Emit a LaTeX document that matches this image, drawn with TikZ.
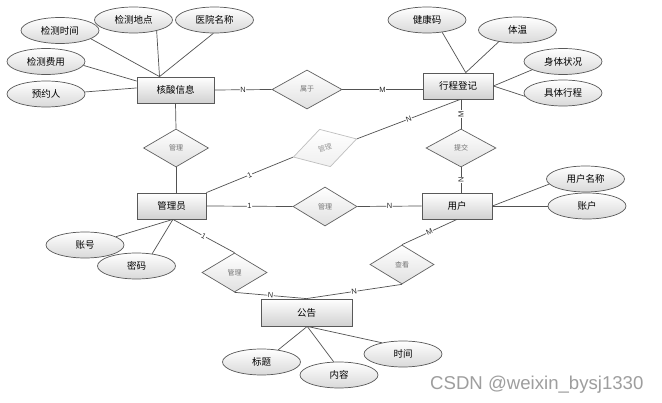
\documentclass[tikz,border=0pt]{standalone}
\usepackage{fontspec}
\setmainfont{Liberation Sans}
\newfontfamily\cjk{Noto Sans CJK SC}
\usetikzlibrary{shapes.geometric,shadows}
\begin{document}
\begin{tikzpicture}[x=1pt,y=-1pt,
  line/.style={draw=black!68, line width=0.7pt},
  entity/.style={rectangle, draw=black!65, line width=0.8pt, top color=white, bottom color=black!18,
    minimum width=#1, minimum height=26pt, inner sep=0pt, font=\cjk\fontsize{9.5}{11}\selectfont,
    drop shadow={shadow xshift=1pt,shadow yshift=-1pt,opacity=0.25}},
  attr/.style={ellipse, draw=black!65, line width=0.7pt, top color=white, bottom color=black!15,
    minimum width=78pt, minimum height=26pt, inner sep=0pt, font=\cjk\fontsize{9.5}{11}\selectfont},
  rel/.style={diamond, draw=black!62, line width=0.7pt, top color=white, bottom color=black!12,
    minimum width=66pt, minimum height=39pt, inner sep=0pt, font=\cjk\fontsize{7}{8}\selectfont, text=black!55},
  card/.style={font=\fontsize{7.5}{8}\selectfont, fill=white, inner sep=0.5pt, sloped, text=black!85}
]
\fill[white] (0,0) rectangle (662,403);
\useasboundingbox (0,0) rectangle (662,403);

% entities
\node[entity=77pt] (hs) at (175.5,90) {核酸信息};
\node[entity=70pt] (xc) at (458,86) {行程登记};
\node[entity=69pt] (gly) at (171.5,206) {管理员};
\node[entity=70pt] (yh) at (457,206) {用户};
\node[entity=91pt, minimum height=27pt] (gg) at (306.5,312.5) {公告};

% relationships
\node[rel, minimum width=70pt] (sy) at (307,89.5) {属于};
\node[rel, minimum width=65pt, minimum height=38pt] (gl1) at (176,148) {管理};
\node[rel, minimum width=70pt, minimum height=38pt] (tj) at (461,148) {提交};
\node[rel, minimum width=64pt] (gl2) at (325,206.5) {管理};
\node[rel, minimum width=65pt] (gl3) at (234.5,272.5) {管理};
\node[rel, minimum width=64pt] (ck) at (402,264.5) {查看};
\node[rel, draw=black!25, text=black!40, bottom color=black!6, rotate=16, minimum width=66pt, minimum height=39pt] (ts) at (325,148) {管理};

% attributes
\node[attr] (a1) at (60,30.5) {检测时间};
\node[attr] (a2) at (133.5,20) {检测地点};
\node[attr] (a3) at (214.5,20) {医院名称};
\node[attr] (a4) at (46,61.5) {检测费用};
\node[attr] (a5) at (46,94) {预约人};
\node[attr] (b1) at (427,20) {健康码};
\node[attr] (b2) at (517.5,30) {体温};
\node[attr] (b3) at (563,61.5) {身体状况};
\node[attr] (b4) at (563,93) {具体行程};
\node[attr] (c1) at (585.5,179) {用户名称};
\node[attr] (c2) at (587,206) {账户};
\node[attr] (d1) at (85,245) {账号};
\node[attr] (d2) at (136.5,266) {密码};
\node[attr] (e1) at (261.5,362) {标题};
\node[attr] (e2) at (339,375) {内容};
\node[attr] (e3) at (403,354) {时间};

% attribute lines
\draw[line] (a1.-15) -- (hs.140);
\draw[line] (a2.-25) -- (hs.140);
\draw[line] (a3.-95) -- (hs.140);
\draw[line] (a4.-6) -- (hs.167);
\draw[line] (a5.3) -- (hs.177);
\draw[line] (b1.-39) -- (xc.60);
\draw[line] (b2.-148) -- (xc.60);
\draw[line] (b3.-165) -- (xc.east);
\draw[line] (b4.-175) -- (xc.east);
\draw[line] (c1.-172) -- (yh.east);
\draw[line] (c2.west) -- (yh.east);
\draw[line] (d1.15) -- (gly.-84);
\draw[line] (d2.38) -- (gly.-84);
\draw[line] (e1.36) -- (gg.-87);
\draw[line] (e2.112) -- (gg.-87);
\draw[line] (e3.152) -- (gg.-87);

% relationship lines
\draw[line] (hs.east) -- node[card]{N} (sy.west);
\draw[line] (sy.east) -- node[card]{M} (sy.east -| xc.west);
\draw[line] (hs.south) -- (gl1.north);
\draw[line] (gl1.south) -- (gly.north -| gl1.south);
\draw[line] (tj.north) -- node[card]{M} (tj.north |- xc.south);
\draw[line] (tj.south |- yh.north) -- node[card]{N} (tj.south);
\draw[line] (gly.north east) -- node[card]{1} (ts.west);
\draw[line] (ts.east) -- node[card]{N} (xc.-80);
\draw[line] (gly.east) -- node[card]{1} (gl2.west);
\draw[line] (gl2.east) -- node[card]{N} (yh.west);
\draw[line] (gly.-84) -- node[card]{1} (gl3.north);
\draw[line] (gl3.south) -- node[card]{N} (gg.north);
\draw[line] (ck.south) -- node[card]{N} (gg.north);
\draw[line] (yh.south) -- node[card]{M} (ck.north);

% watermark
\node[anchor=base west, font=\fontsize{18.6}{20}\selectfont, text=black!38, inner sep=0pt] (wm) at (430,390) {CSDN @weixin\_bysj1330};
\end{tikzpicture}
\end{document}
